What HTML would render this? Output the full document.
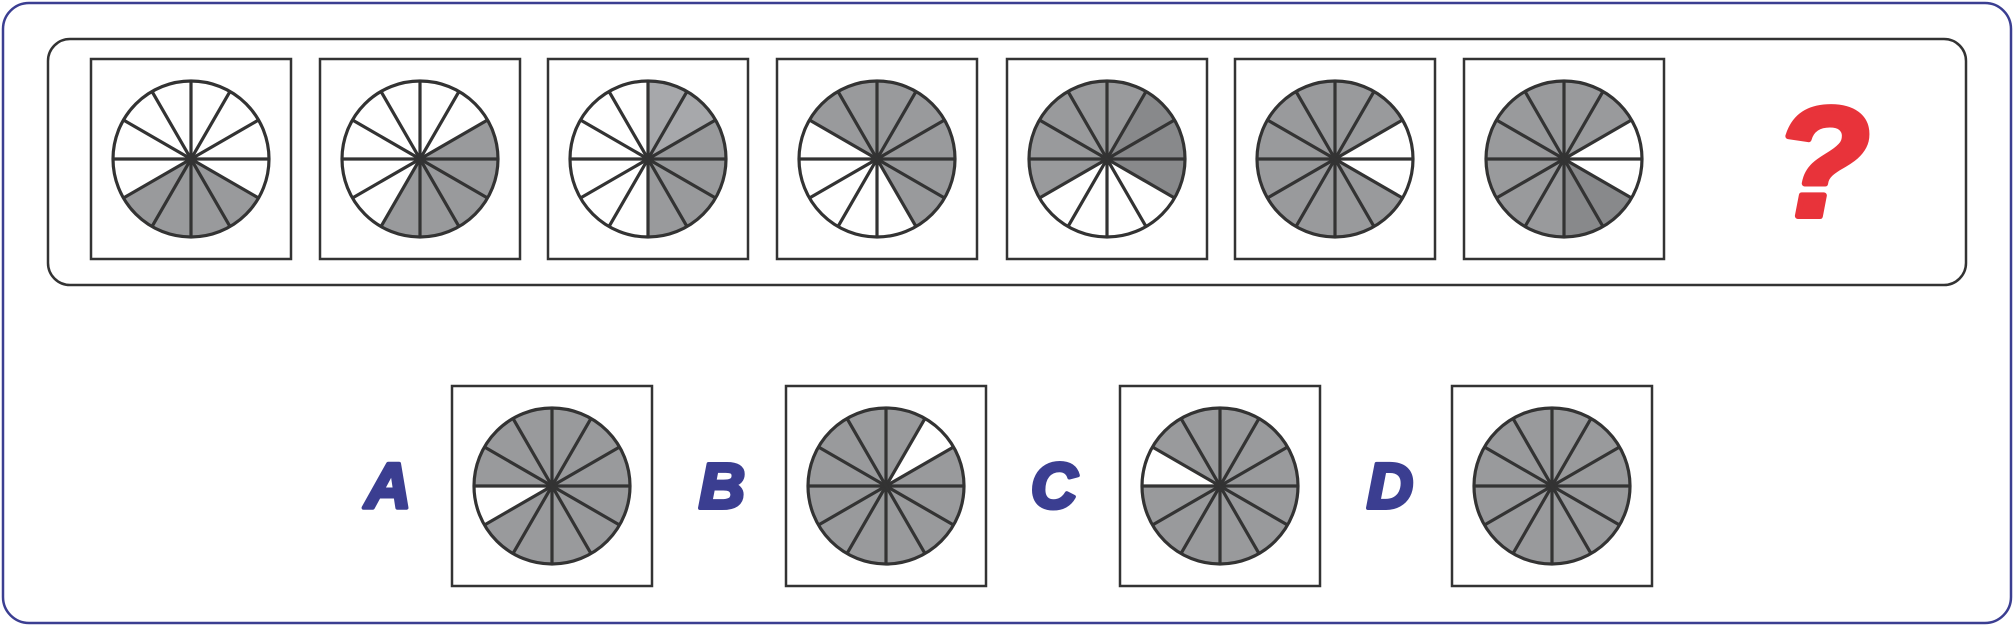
<!DOCTYPE html>
<html><head><meta charset="utf-8"><style>
html,body{margin:0;padding:0;background:#fff;width:2014px;height:626px;overflow:hidden}
</style></head><body>
<svg id="s" width="2014" height="626" viewBox="0 0 2014 626" xmlns="http://www.w3.org/2000/svg">
<rect x="3" y="3" width="2008" height="620" rx="26" fill="#fff" stroke="#3b3e91" stroke-width="2.5"/>
<rect x="48" y="39" width="1918" height="246" rx="22" fill="#fff" stroke="#333" stroke-width="2.5"/>
<text x="1822" y="216" font-family="Liberation Sans, sans-serif" font-size="156" font-weight="bold" font-style="italic" fill="#e8333a" stroke="#e8333a" stroke-width="6" stroke-linejoin="round" text-anchor="middle">?</text>
<g font-family="Liberation Sans, sans-serif" font-size="64" font-weight="bold" font-style="italic" fill="#3b3e91" stroke="#3b3e91" stroke-width="4" stroke-linejoin="round" text-anchor="middle">
<text x="388" y="508">A</text>
<text x="722" y="508">B</text>
<text x="1054" y="508">C</text>
<text x="1390" y="508">D</text>
</g>
</svg>
<script>
// sector fills per panel, index clockwise from top (0=W white,1=L light,2=M mid,3=D dark)
const seq1=[0,0,0,0,2,2,2,2,0,0,0,0];
const seq2=[0,0,2,2,2,2,2,0,0,0,0,0];
const seq3=[1,1,2,2,2,2,0,0,0,0,0,0];
const seq4=[2,2,2,2,2,0,0,0,0,0,2,2];
const seq5=[2,3,3,3,0,0,0,0,2,2,2,2];
const seq6=[2,2,0,0,2,2,2,2,2,2,2,2];
const seq7=[2,2,0,0,3,3,2,2,2,2,2,2];
const optA=[2,2,2,2,2,2,2,2,0,2,2,2];
const optB=[2,0,2,2,2,2,2,2,2,2,2,2];
const optC=[2,2,2,2,2,2,2,2,2,0,2,2];
const optD=[2,2,2,2,2,2,2,2,2,2,2,2];
const colors=['#ffffff','#a7a8ab','#999a9c','#88898b'];
const svg=document.getElementById('s');
const NS='http://www.w3.org/2000/svg';
function mk(t,a){const e=document.createElementNS(NS,t);for(const k in a)e.setAttribute(k,a[k]);svg.appendChild(e);return e;}
function panel(x,y,data,name){
  const b=mk('rect',{x:x,y:y,width:200,height:200,fill:'#fff',stroke:'#333','stroke-width':2.5});
  
  
  const cx=x+100,cy=y+100,r=78;
  data.forEach((v,i)=>{
    const a1=(i*30-90)*Math.PI/180,a2=((i+1)*30-90)*Math.PI/180;
    const p=mk('path',{d:`M${cx},${cy} L${cx+r*Math.cos(a1)},${cy+r*Math.sin(a1)} A${r},${r} 0 0 1 ${cx+r*Math.cos(a2)},${cy+r*Math.sin(a2)} Z`,fill:colors[v],stroke:'none'});
    
    
  });
  for(let i=0;i<6;i++){
    const a=(i*30-90)*Math.PI/180;
    const l=mk('line',{x1:cx-r*Math.cos(a),y1:cy-r*Math.sin(a),x2:cx+r*Math.cos(a),y2:cy+r*Math.sin(a),stroke:'#333','stroke-width':3.2});
    
    
  }
  const c=mk('circle',{cx:cx,cy:cy,r:r,fill:'none',stroke:'#333','stroke-width':3.2});
  
  
}
const seqs=[seq1,seq2,seq3,seq4,seq5,seq6,seq7];
const seqX=[91,320,548,777,1007,1235,1464];
seqs.forEach((d,i)=>panel(seqX[i],59,d,'sequence-panel-'+(i+1)));
const opts=[optA,optB,optC,optD];
const optX=[452,786,1120,1452];
const optN=['a','b','c','d'];
opts.forEach((d,i)=>panel(optX[i],386,d,'option-'+optN[i]));
</script>
</body></html>
